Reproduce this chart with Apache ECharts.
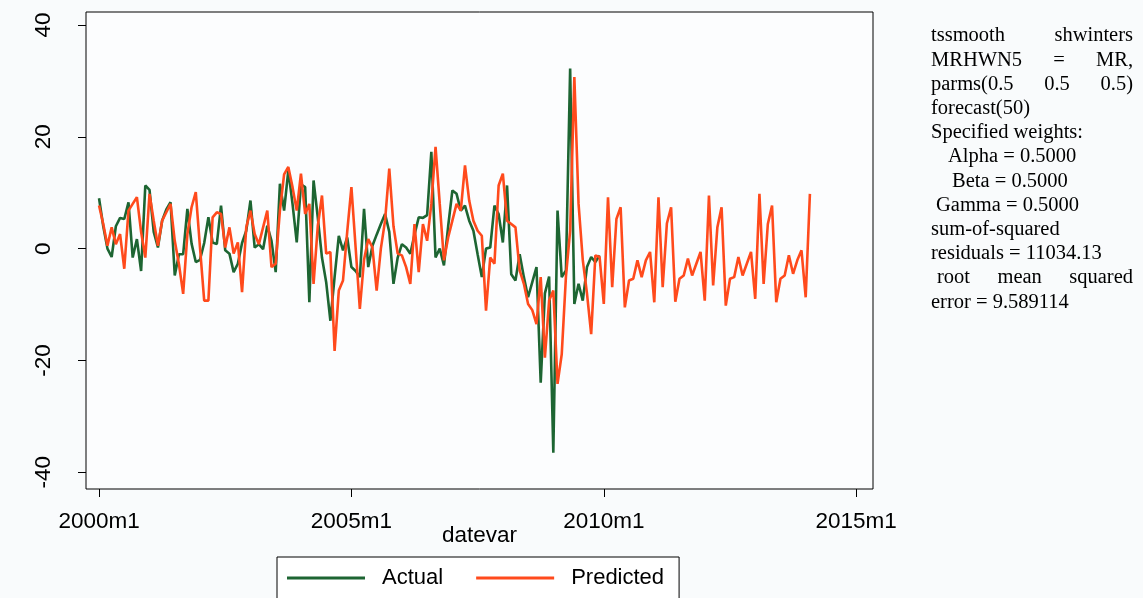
<!DOCTYPE html>
<html>
<head>
<meta charset="utf-8">
<title>Holt-Winters smoothing: actual vs predicted</title>
<script src="https://cdn.jsdelivr.net/npm/echarts@6/dist/echarts.min.js"></script>
<style>
  html, body { margin: 0; padding: 0; background: #f9fbfc; }
  #chart { width: 1143px; height: 598px; }
</style>
</head>
<body>
<div id="chart"></div>
<script>
// Monthly series, index 0 = 2000m1
const actual = [
  9.0, 4.0, 0.0, -1.5, 4.0, 5.5, 5.3, 8.3, -1.6, 1.7, -4.0, 11.3,
  10.5, 3.0, 0.2, 5.0, 7.0, 8.3, -4.8, -1.0, -1.0, 7.1, 0.9, -2.4,
  -2.0, 1.0, 5.6, 1.1, 0.8, 7.7, -0.3, -0.9, -4.2, -2.7, 1.0, 3.2,
  8.6, 0.2, 0.8, -0.1, 4.1, 1.4, -4.2, 11.6, 6.8, 14.0, 8.0, 1.1,
  11.5, 11.0, -9.6, 12.2, 5.6, -1.6, -6.0, -12.9, -5.1, 2.3, -0.3, 2.0,
  -3.3, -4.0, -5.1, 7.1, -3.3, 0.5, 2.5, 4.4, 6.2, 3.0, -6.3, -1.6,
  0.8, 0.2, -0.9, 2.5, 5.6, 5.5, 6.0, 17.3, -1.6, 0.0, -3.0, 4.0,
  10.4, 9.8, 6.8, 7.7, 5.0, 3.2, -1.0, -5.1, 0.0, 0.2, 7.7, 6.2,
  1.1, 11.3, -4.6, -5.7, -1.0, -5.1, -8.7, -6.0, -3.3, -24.0, -8.0, -5.0,
  -36.5, 6.8, -5.1, -3.9, 32.2, -9.9, -6.3, -9.3, -3.3, -1.5, -2.4, -1.2
];

const predicted = [
  7.7, 4.4, 0.5, 3.8, 0.8, 2.6, -3.6, 6.8, 8.0, 9.2, 3.0, -1.6,
  9.8, 5.0, 0.5, 5.0, 6.5, 8.0, 1.4, -2.8, -8.1, 2.6, 7.4, 10.1,
  0.2, -9.3, -9.3, 5.6, 6.5, 6.2, 0.2, 3.8, -0.9, 1.1, -7.8, 3.8,
  6.8, 2.6, 0.8, 3.8, 6.8, -3.3, -2.7, 6.8, 13.3, 14.6, 11.0, 6.8,
  13.4, 6.2, 8.0, -6.3, 4.0, 9.5, -0.9, -0.6, -18.3, -7.5, -5.7, 3.0,
  11.0, 0.2, -10.8, -2.0, 1.7, 0.2, -7.5, 0.0, 5.0, 14.3, 4.0, -0.9,
  -1.2, -3.3, -6.3, 4.4, -4.2, 4.4, 1.4, 8.0, 18.2, 8.0, -2.1, 2.0,
  5.0, 8.0, 6.8, 14.9, 8.6, 5.0, 3.2, 2.3, -11.1, -1.6, -2.7, 11.3,
  13.4, 5.0, 4.4, 3.8, -3.9, -6.3, -9.9, -11.0, -13.5, -5.1, -19.5, -9.3,
  -7.5, -24.2, -18.9, -5.0, 3.2, 30.7, 8.0, -2.0, -8.0, -15.3, -1.2, -1.5,
  // forecast(50): 2010m1 - 2014m2
  -9.9, 9.2, -6.9, 5.3, 7.4, -10.5, -5.7, -5.4, -2.1, -5.1, -2.1, -0.6,
  -9.6, 9.2, -6.9, 4.5, 7.4, -9.5, -5.4, -4.8, -1.8, -4.8, -2.7, -0.6,
  -9.3, 9.5, -6.6, 3.8, 7.4, -10.2, -5.4, -5.1, -1.5, -4.8, -2.7, -0.6,
  -9.0, 9.8, -6.3, 4.4, 7.7, -9.6, -5.4, -4.8, -1.2, -4.5, -2.1, -0.3,
  -8.7, 9.8
];

const yTicks = [-40, -20, 0, 20, 40];
const xTicks = [0, 60, 120, 180];           // months since 2000m1
const xTickLabels = ['2000m1', '2005m1', '2010m1', '2015m1'];

// note block: words of each line, plus left indent in px
const noteLines = [
  { words: ['tssmooth', 'shwinters'], indent: 0 },
  { words: ['MRHWN5', '=', 'MR,'], indent: 0 },
  { words: ['parms(0.5', '0.5', '0.5)'], indent: 0 },
  { words: ['forecast(50)'], indent: 0 },
  { words: ['Specified weights:'], indent: 0 },
  { words: ['Alpha = 0.5000'], indent: 17 },
  { words: ['Beta = 0.5000'], indent: 21 },
  { words: ['Gamma = 0.5000'], indent: 5 },
  { words: ['sum-of-squared'], indent: 0 },
  { words: ['residuals = 11034.13'], indent: 0 },
  { words: ['root', 'mean', 'squared'], indent: 6 },
  { words: ['error = 9.589114'], indent: 0 }
];

const toPairs = arr => arr.map((v, i) => [i, v]);

// justified note block on the right
const noteLeft = 931, noteRight = 1133, noteTop = 36, noteStep = 24.2;
const noteFont = '20.5px "Liberation Serif", "Times New Roman", serif';
const graphics = [];
const measureCtx = document.createElement('canvas').getContext('2d');
measureCtx.font = noteFont;
noteLines.forEach((line, row) => {
  const y = noteTop + row * noteStep;
  const words = line.words;
  const start = noteLeft + line.indent;
  if (words.length === 1) {
    graphics.push({ type: 'text', x: start, y: y,
      style: { text: words[0], font: noteFont, fill: '#000', align: 'left', verticalAlign: 'middle' } });
    return;
  }
  const widths = words.map(w => measureCtx.measureText(w).width);
  const total = widths.reduce((a, b) => a + b, 0);
  const gap = (noteRight - start - total) / (words.length - 1);
  let x = start;
  words.forEach((w, k) => {
    graphics.push({ type: 'text', x: x, y: y,
      style: { text: w, font: noteFont, fill: '#000', align: 'left', verticalAlign: 'middle' } });
    x += widths[k] + gap;
  });
});

const sans = '"Liberation Sans", Arial, sans-serif';
const chart = echarts.init(document.getElementById('chart'), null, { renderer: 'canvas' });
chart.setOption({
  animation: false,
  backgroundColor: '#f9fbfc',
  textStyle: { fontFamily: sans },
  grid: {
    left: 86, right: 270, top: 12, bottom: 109,
    show: true, borderColor: '#000', borderWidth: 1, backgroundColor: '#fcfdfe'
  },
  xAxis: {
    type: 'value', min: -3.1, max: 184,
    name: 'datevar', nameLocation: 'middle', nameGap: 35, nameMoveOverlap: false,
    nameTextStyle: { fontSize: 22.5, color: '#000', fontFamily: sans },
    axisLine: { show: false, onZero: false },
    splitLine: { show: false },
    axisTick: { show: true, length: 8, inside: false, customValues: xTicks,
      lineStyle: { color: '#000', width: 1 } },
    axisLabel: { show: true, customValues: xTicks, margin: 21, fontSize: 22.5, color: '#000',
      formatter: v => xTickLabels[xTicks.indexOf(v)] }
  },
  yAxis: {
    type: 'value', min: -43.0, max: 42.33,
    axisLine: { show: false, onZero: false },
    splitLine: { show: false },
    axisTick: { show: true, length: 8, inside: false, customValues: yTicks,
      lineStyle: { color: '#000', width: 1 } },
    axisLabel: { show: true, customValues: yTicks, rotate: 90, margin: 31, fontSize: 22.5, color: '#000' }
  },
  legend: {
    left: 277, top: 557,
    orient: 'horizontal',
    backgroundColor: '#ffffff', borderColor: '#000', borderWidth: 1, borderRadius: 0,
    padding: [10, 15, 10, 10],
    itemWidth: 78, itemHeight: 3, itemGap: 33,
    icon: 'rect',
    textStyle: { fontSize: 22, color: '#000', padding: [0, 0, 0, 12] },
    data: ['Actual', 'Predicted']
  },
  series: [
    {
      name: 'Actual', type: 'line', data: toPairs(actual),
      symbol: 'none', color: '#1d6532',
      lineStyle: { color: '#1d6532', width: 2.6 }
    },
    {
      name: 'Predicted', type: 'line', data: toPairs(predicted),
      symbol: 'none', color: '#ff4a1c',
      lineStyle: { color: '#ff4a1c', width: 2.6 }
    }
  ],
  graphic: graphics
});
</script>
</body>
</html>
